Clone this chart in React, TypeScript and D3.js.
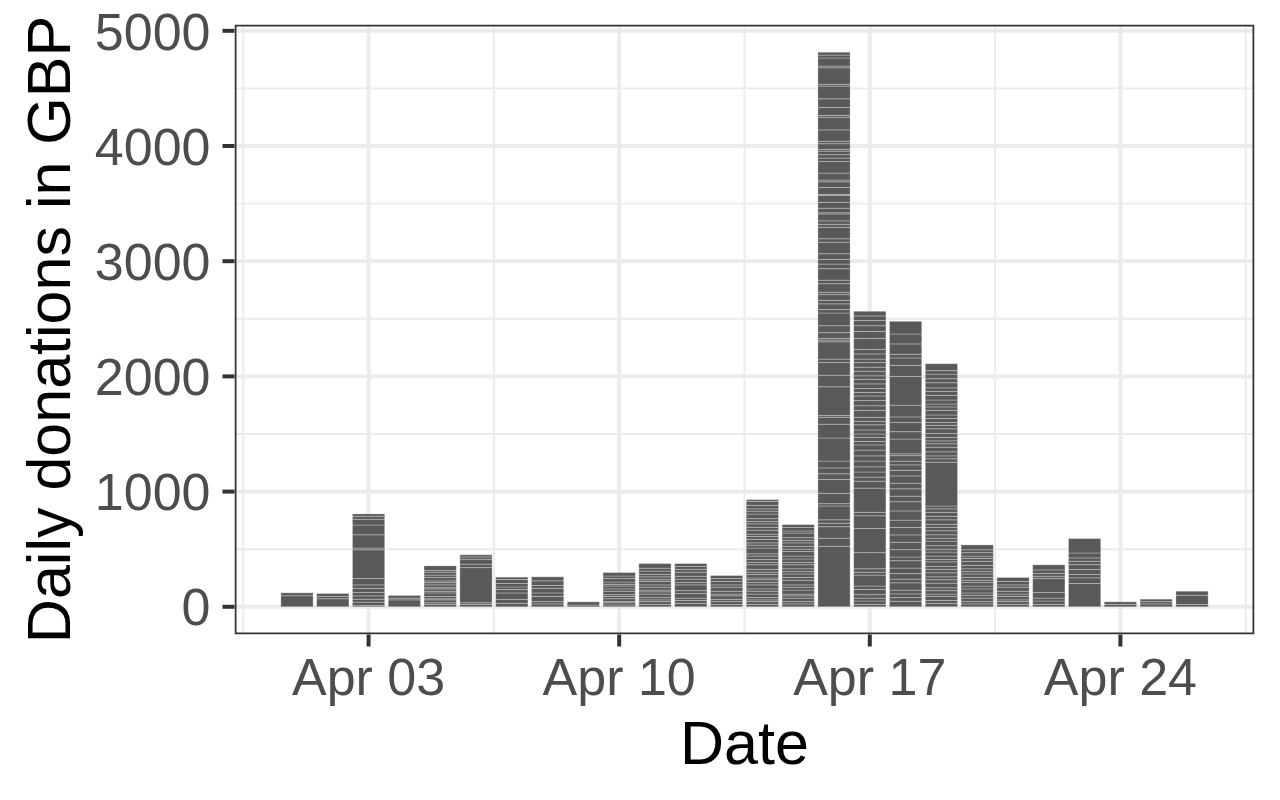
import * as d3 from 'd3';

// one entry per day, Apr 01 .. Apr 26
const dates = [
  '2020-04-01', '2020-04-02', '2020-04-03', '2020-04-04', '2020-04-05', '2020-04-06',
  '2020-04-07', '2020-04-08', '2020-04-09', '2020-04-10', '2020-04-11', '2020-04-12',
  '2020-04-13', '2020-04-14', '2020-04-15', '2020-04-16', '2020-04-17', '2020-04-18',
  '2020-04-19', '2020-04-20', '2020-04-21', '2020-04-22', '2020-04-23', '2020-04-24',
  '2020-04-25', '2020-04-26',
];

// individual donations (GBP) stacked per day, bottom to top
const donations = [
  [96, 25],
  [70, 20, 25],
  [10, 30, 25, 30, 30, 35, 30, 55, 250, 15, 115, 85, 50, 25, 21],
  [60, 15, 23],
  [20, 15, 25, 10, 20, 30, 15, 20, 10, 25, 20, 15, 30, 20, 25, 15, 40],
  [20, 15, 305, 30, 43, 20, 18],
  [30, 35, 55, 30, 22, 30, 35, 20],
  [25, 20, 45, 30, 40, 25, 40, 35],
  [15, 28],
  [15, 20, 10, 25, 20, 15, 30, 20, 25, 15, 20, 30, 22, 30],
  [20, 25, 15, 20, 30, 20, 15, 25, 20, 30, 15, 25, 20, 30, 25, 40],
  [30, 25, 20, 40, 25, 50, 20, 30, 25, 35, 25, 25, 25],
  [20, 25, 20, 30, 15, 25, 35, 20, 30, 25, 26],
  [20, 25, 15, 20, 30, 25, 20, 35, 20, 25, 15, 30, 20, 25, 40, 20, 25, 30, 20, 50, 25, 20, 30, 25,
    20, 35, 25, 30, 20, 25, 40, 25, 20, 30, 35, 15],
  [25, 20, 30, 20, 15, 35, 25, 20, 40, 25, 30, 20, 25, 35, 20, 30, 25, 40, 20, 25, 30, 20, 25, 40,
    18, 30, 25],
  [525, 70, 100, 30, 30, 120, 20, 90, 120, 50, 50, 60, 200, 120, 60, 15, 250, 100, 110, 30, 150, 15,
    15, 50, 60, 110, 30, 50, 30, 50, 20, 75, 30, 100, 40, 40, 50, 100, 30, 100, 25, 30, 60, 10, 40,
    50, 60, 10, 60, 50, 15, 60, 100, 30, 30, 30, 15, 50, 20, 100, 110, 15, 70, 75, 110, 15, 144, 15,
    70, 25, 25],
  [20, 30, 25, 30, 45, 30, 95, 25, 30, 140, 210, 110, 30, 210, 60, 35, 45, 45, 50, 45, 50, 45, 30,
    35, 30, 35, 45, 30, 35, 60, 40, 45, 40, 30, 35, 40, 40, 30, 40, 35, 40, 30, 45, 40, 95, 60, 50,
    45, 40, 40],
  [48, 32, 32, 32, 64, 32, 48, 48, 64, 32, 64, 64, 64, 64, 64, 80, 80, 48, 64, 48, 64, 48, 48, 32,
    48, 16, 128, 64, 80, 48, 102, 250, 96, 64, 32, 90, 86, 110],
  [30, 25, 35, 20, 30, 25, 40, 30, 25, 35, 30, 25, 40, 20, 30, 35, 25, 30, 40, 25, 30, 35, 30, 25,
    40, 30, 35, 30, 25, 380, 30, 25, 35, 40, 30, 25, 30, 35, 40, 30, 25, 35, 30, 40, 30, 25, 35, 40,
    35, 30, 45, 35, 40, 30, 60],
  [25, 20, 30, 25, 20, 35, 25, 30, 20, 25, 30, 20, 25, 30, 35, 25, 20, 30, 25, 42],
  [20, 25, 15, 30, 20, 25, 35, 20, 30, 34],
  [20, 30, 25, 50, 120, 20, 25, 30, 44],
  [202, 49, 29, 43, 43, 29, 29, 43, 125],
  [20, 23],
  [25, 20, 21],
  [20, 80, 35],
];

const xTickDates = ['2020-04-03', '2020-04-10', '2020-04-17', '2020-04-24'];
const yTicks = [0, 1000, 2000, 3000, 4000, 5000];

const DAY = 864e5;
const FONT = '"Liberation Sans", Arial, Helvetica, sans-serif';

export default function App() {
  const parse = d3.utcParse('%Y-%m-%d');
  const days = dates.map((d) => parse(d) as Date);
  const totals = donations.map((d) => d3.sum(d));

  const left = 234.5, right = 1254.5, top = 24.5, bottom = 634.5;

  // ggplot-like limits: bars are 0.9 days wide, 5% expansion
  const lo = +days[0] - 0.45 * DAY;
  const hi = +days[days.length - 1] + 0.45 * DAY;
  const pad = 0.05 * (hi - lo);
  const x = d3.scaleUtc().domain([new Date(lo - pad), new Date(hi + pad)]).range([left, right]);

  const ymax = d3.max(totals) as number;
  const y = d3.scaleLinear().domain([-0.05 * ymax, 1.05 * ymax]).range([bottom, top]);

  const xTicks = xTickDates.map((d) => parse(d) as Date);
  const xMinor = [
    new Date(+xTicks[0] - 3.5 * DAY),
    ...xTicks.map((t) => new Date(+t + 3.5 * DAY)),
  ].filter((d) => x(d) > left && x(d) < right);
  const yMinor = d3.pairs(yTicks).map(([a, b]) => (a + b) / 2);

  const fmt = d3.utcFormat('%b %d');
  const barW = x(new Date(+days[0] + 0.45 * DAY)) - x(new Date(+days[0] - 0.45 * DAY));

  const stacks = donations.map((list, i) => {
    const cum = d3.cumsum(list);
    return list.map((v, j) => ({ day: days[i], y0: cum[j] - v, y1: cum[j] }));
  });

  return (
    <div style={{ position: 'absolute', left: 0, top: 0 }}>
      <svg width={1280} height={800} style={{ display: 'block', background: '#fff' }}>
        <defs>
          <clipPath id="panel">
            <rect x={left} y={top} width={right - left} height={bottom - top} />
          </clipPath>
        </defs>

        <g clipPath="url(#panel)">
          {yMinor.map((v) => (
            <line key={'ym' + v} x1={left} x2={right} y1={y(v)} y2={y(v)} stroke="#ebebeb" strokeWidth={1.9} />
          ))}
          {xMinor.map((d) => (
            <line key={'xm' + +d} x1={x(d)} x2={x(d)} y1={top} y2={bottom} stroke="#ebebeb" strokeWidth={1.9} />
          ))}
          {yTicks.map((v) => (
            <line key={'yg' + v} x1={left} x2={right} y1={y(v)} y2={y(v)} stroke="#ebebeb" strokeWidth={3.8} />
          ))}
          {xTicks.map((d) => (
            <line key={'xg' + +d} x1={x(d)} x2={x(d)} y1={top} y2={bottom} stroke="#ebebeb" strokeWidth={3.8} />
          ))}

          {stacks.map((segs, i) => (
            <g key={'bar' + i}>
              {segs.map((s, j) => (
                <rect
                  key={j}
                  x={x(s.day) - barW / 2}
                  width={barW}
                  y={y(s.y1)}
                  height={y(s.y0) - y(s.y1)}
                  fill="#595959"
                  stroke="#ffffff"
                  strokeOpacity={0.28}
                  strokeWidth={1}
                />
              ))}
            </g>
          ))}

          <rect
            x={left + 1}
            y={top + 1}
            width={right - left - 2}
            height={bottom - top - 2}
            fill="none"
            stroke="#333333"
            strokeWidth={2}
          />
        </g>

        {/* y axis */}
        {yTicks.map((v) => (
          <g key={'yt' + v}>
            <line x1={left - 12} x2={left} y1={y(v)} y2={y(v)} stroke="#333333" strokeWidth={4} />
            <text
              x={left - 24}
              y={y(v)}
              dy="0.36em"
              textAnchor="end"
              fontFamily={FONT}
              fontSize={52}
              fill="#4d4d4d"
            >
              {v}
            </text>
          </g>
        ))}

        {/* x axis */}
        {xTicks.map((d) => (
          <g key={'xt' + +d}>
            <line x1={x(d)} x2={x(d)} y1={bottom} y2={bottom + 12} stroke="#333333" strokeWidth={4} />
            <text
              x={x(d)}
              y={695}
              textAnchor="middle"
              fontFamily={FONT}
              fontSize={52}
              fill="#4d4d4d"
            >
              {fmt(d)}
            </text>
          </g>
        ))}

        <text
          x={(left + right) / 2}
          y={764}
          textAnchor="middle"
          fontFamily={FONT}
          fontSize={61}
          fill="#000"
        >
          Date
        </text>
        <text
          transform={`translate(70,${(top + bottom) / 2}) rotate(-90)`}
          textAnchor="middle"
          fontFamily={FONT}
          fontSize={61}
          fill="#000"
        >
          Daily donations in GBP
        </text>
      </svg>
    </div>
  );
}
